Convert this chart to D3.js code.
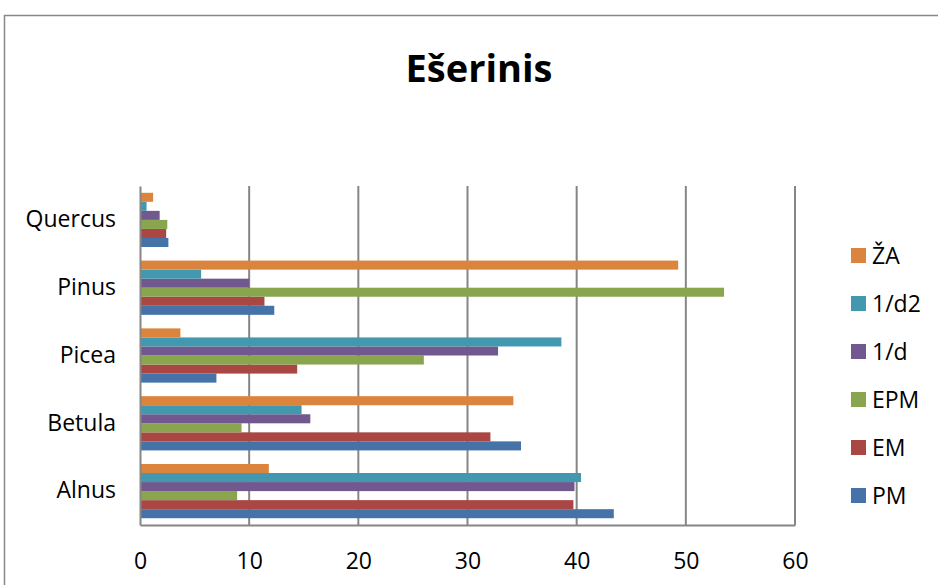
<!DOCTYPE html>
<html>
<head>
<meta charset="utf-8">
<script src="https://cdn.jsdelivr.net/npm/d3@7"></script>
<style>
  body { margin: 0; background: #fff; }
  text { font-family: "Open Sans", sans-serif; }
</style>
</head>
<body>
<div id="chart"></div>
<script>
// categories bottom -> top as drawn
var categories = ["Alnus", "Betula", "Picea", "Pinus", "Quercus"];
// series in drawing order inside each group (bottom -> top)
var seriesNames = ["PM", "EM", "EPM", "1/d", "1/d2", "ŽA"];
var seriesColors = ["#4572A7", "#AA4643", "#89A54E", "#71588F", "#4198AF", "#DB843D"];
var PM = [43.4, 34.9, 7.0, 12.3, 2.6];
var EM = [39.7, 32.1, 14.4, 11.4, 2.4];
var EPM = [8.9, 9.3, 26.0, 53.5, 2.5];
var invD = [39.8, 15.6, 32.8, 10.0, 1.8];
var invD2 = [40.4, 14.8, 38.6, 5.6, 0.6];
var ZA = [11.8, 34.2, 3.7, 49.3, 1.2];
var xTicks = [0, 10, 20, 30, 40, 50, 60];

var seriesValues = [PM, EM, EPM, invD, invD2, ZA];

const width = 938, height = 585;
const margin = { top: 186, left: 140, right: 143, bottom: 60 };
const plotW = width - margin.left - margin.right;
const plotH = height - margin.top - margin.bottom;
const labelFont = "23px";

const svg = d3.select("#chart").append("svg")
  .attr("width", width)
  .attr("height", height);

// chart frame
svg.append("rect")
  .attr("x", 4.5).attr("y", 15.5)
  .attr("width", 1000).attr("height", 1000)
  .attr("fill", "none").attr("stroke", "#888").attr("stroke-width", 1.5);

svg.append("text")
  .attr("x", 479).attr("y", 82)
  .attr("text-anchor", "middle")
  .attr("font-size", "38px")
  .attr("font-weight", "bold")
  .text("Ešerinis");

const g = svg.append("g").attr("transform", `translate(${margin.left},${margin.top})`);

const x = d3.scaleLinear().domain([0, 60]).range([0, plotW]);
// reversed so first category sits at the bottom
const y = d3.scaleBand().domain(categories.slice().reverse()).range([0, plotH]);
const bandH = y.bandwidth();
// Excel gap width 150% -> bars take 6 / 7.5 of the band
const groupH = bandH / 1.25;
const yInner = d3.scaleBand().domain(seriesNames.slice().reverse())
  .range([(bandH - groupH) / 2, (bandH + groupH) / 2]);

// gridlines
g.selectAll(".grid")
  .data(xTicks.slice(1))
  .enter()
  .append("line")
  .attr("class", "grid")
  .attr("x1", d => x(d)).attr("x2", d => x(d))
  .attr("y1", 0).attr("y2", plotH)
  .attr("stroke", "#868686").attr("stroke-width", 2);

// bars
seriesNames.forEach(function (name, si) {
  g.selectAll(".bar" + si)
    .data(categories)
    .enter()
    .append("rect")
    .attr("class", "bar" + si)
    .attr("x", x(0))
    .attr("y", d => y(d) + yInner(name))
    .attr("width", (d, i) => x(seriesValues[si][i]) - x(0))
    .attr("height", yInner.bandwidth())
    .attr("fill", seriesColors[si]);
});

// axes
const xAxis = g.append("g")
  .attr("transform", `translate(0,${plotH})`)
  .call(d3.axisBottom(x).tickValues(xTicks).tickSize(0));
xAxis.select(".domain").attr("stroke", "#868686").attr("stroke-width", 2);
xAxis.selectAll("text")
  .attr("y", 44).attr("dy", null)
  .attr("font-size", labelFont).attr("fill", "#000")
  .attr("font-family", "'Open Sans', sans-serif");

const yAxis = g.append("g")
  .call(d3.axisLeft(y).tickSize(0).tickPadding(24));
yAxis.select(".domain").attr("stroke", "#868686").attr("stroke-width", 2);
yAxis.selectAll("text").attr("font-size", labelFont).attr("fill", "#000")
  .attr("font-family", "'Open Sans', sans-serif");

// legend, top to bottom: ŽA ... PM
const legendItems = seriesNames.map((n, i) => ({ name: n, color: seriesColors[i] })).reverse();
const legend = svg.append("g").attr("transform", "translate(851,248)");
const li = legend.selectAll(".li")
  .data(legendItems)
  .enter()
  .append("g")
  .attr("class", "li")
  .attr("transform", (d, i) => `translate(0,${i * 48})`);
li.append("rect")
  .attr("width", 15).attr("height", 15)
  .attr("fill", d => d.color);
li.append("text")
  .attr("x", 21).attr("y", 8)
  .attr("dy", "0.35em")
  .attr("font-size", labelFont)
  .text(d => d.name);
</script>
</body>
</html>
